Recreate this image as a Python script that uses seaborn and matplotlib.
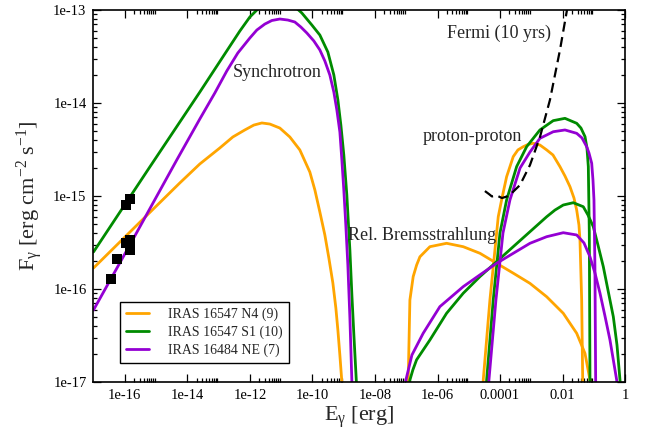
import matplotlib
matplotlib.use("Agg")
import matplotlib.pyplot as plt
from matplotlib.lines import Line2D
from matplotlib.ticker import FixedLocator, FixedFormatter, NullFormatter
import pandas as pd
import seaborn as sns

# ---------------- data (E in erg, F in erg cm^-2 s^-1) ----------------
sources = ["IRAS 16547 N4 (9)", "IRAS 16547 S1 (10)", "IRAS 16484 NE (7)"]
colors = ["#FFA500", "#008B00", "#9400D3"]

# Synchrotron
syn_E_n4 = [1.0e-17, 3.02e-16, 5.74e-15, 2.51e-14, 1.09e-13, 2.85e-13, 6.90e-13, 1.34e-12,
            2.42e-12, 4.35e-12, 9.08e-12, 1.90e-11, 3.96e-11, 8.28e-11, 1.20e-10, 1.73e-10,
            2.50e-10, 3.36e-10, 4.51e-10, 5.62e-10, 6.52e-10, 7.55e-10, 8.75e-10, 1.01e-9]
syn_F_n4 = [1.68e-16, 5.21e-16, 1.38e-15, 2.21e-15, 3.28e-15, 4.31e-15, 5.13e-15, 5.79e-15,
            6.10e-15, 5.94e-15, 5.38e-15, 4.31e-15, 3.13e-15, 1.81e-15, 1.16e-15, 6.73e-16,
            3.81e-16, 2.15e-16, 1.16e-16, 6.25e-17, 3.62e-17, 1.95e-17, 1.0e-17, 3.9e-18]
syn_E_s1 = [1.0e-17, 6.31e-16, 2.51e-14, 1.58e-13, 4.78e-13, 1.0e-12, 2.42e-12, 7.28e-12,
            2.20e-11, 4.59e-11, 9.59e-11, 1.73e-10, 3.12e-10, 4.85e-10, 6.52e-10, 8.13e-10,
            1.01e-9, 1.26e-9, 1.58e-9, 1.83e-9, 2.12e-9, 2.45e-9, 2.84e-9]
syn_F_s1 = [2.50e-16, 2.05e-15, 1.31e-14, 3.37e-14, 5.94e-14, 8.41e-14, 1.13e-13, 1.28e-13,
            1.16e-13, 9.29e-14, 6.90e-14, 5.38e-14, 3.53e-14, 2.0e-14, 1.08e-14, 5.79e-15,
            2.76e-15, 1.03e-15, 2.62e-16, 8.61e-17, 3.20e-17, 1.28e-17, 5.0e-18]
syn_E_ne = [1.0e-17, 1.45e-16, 4.60e-15, 2.51e-14, 7.57e-14, 1.83e-13, 4.12e-13, 1.0e-12,
            1.67e-12, 3.01e-12, 5.05e-12, 9.08e-12, 1.64e-11, 2.74e-11, 4.27e-11, 6.64e-11,
            1.11e-10, 1.73e-10, 2.50e-10, 3.61e-10, 4.85e-10, 6.05e-10, 7.55e-10, 8.75e-10,
            1.01e-9, 1.17e-9, 1.36e-9, 1.58e-9, 1.83e-9, 2.12e-9]
syn_F_ne = [5.94e-17, 2.97e-16, 2.44e-15, 6.73e-15, 1.28e-14, 2.21e-14, 3.45e-14, 5.0e-14,
            6.09e-14, 7.06e-14, 7.71e-14, 8.0e-14, 7.80e-14, 7.43e-14, 6.56e-14, 5.66e-14,
            4.65e-14, 3.72e-14, 2.83e-14, 2.0e-14, 1.31e-14, 8.41e-15, 4.88e-15, 2.44e-15,
            1.16e-15, 4.88e-16, 1.81e-16, 4.88e-17, 1.0e-17, 3.05e-18]

# Relativistic Bremsstrahlung
brem_E_n4 = [1.15e-7, 1.156e-7, 1.31e-7, 1.67e-7, 2.15e-7, 2.74e-7, 5.71e-7, 1.95e-6, 6.64e-6,
             2.28e-5, 7.78e-5, 2.64e-4, 9.04e-4, 3.09e-3, 1.05e-2, 2.82e-2, 5.20e-2, 7.50e-2, 8.71e-2]
brem_F_n4 = [3.9e-18, 1.05e-17, 7.62e-17, 1.36e-16, 1.81e-16, 2.22e-16, 2.85e-16, 3.10e-16, 2.85e-16,
             2.42e-16, 1.89e-16, 1.48e-16, 1.15e-16, 8.26e-17, 5.48e-17, 3.34e-17, 2.03e-17,
             1.05e-17, 6.4e-18]
brem_E_s1 = [1.22e-7, 1.31e-7, 1.63e-7, 2.14e-7, 5.71e-7, 1.95e-6, 6.64e-6, 2.28e-5, 7.78e-5,
             2.64e-4, 9.04e-4, 3.09e-3, 5.70e-3, 1.05e-2, 2.19e-2, 4.58e-2, 6.47e-2, 9.57e-2,
             0.135, 0.200, 0.282, 0.418, 0.548, 0.684, 0.792]
brem_F_s1 = [6.4e-18, 1.05e-17, 1.35e-17, 1.73e-17, 2.83e-17, 5.48e-17, 9.0e-17, 1.36e-16, 1.97e-16,
             2.85e-16, 4.13e-16, 5.98e-16, 7.06e-16, 8.0e-16, 8.47e-16, 7.67e-16, 6.25e-16, 4.68e-16,
             2.97e-16, 1.74e-16, 9.75e-17, 5.04e-17, 2.50e-17, 1.05e-17, 5.0e-18]
brem_E_ne = [9.06e-8, 9.75e-8, 1.52e-7, 3.48e-7, 1.19e-6, 6.64e-6, 2.28e-5, 7.78e-5, 2.64e-4,
             9.04e-4, 3.09e-3, 1.05e-2, 2.82e-2, 4.82e-2, 7.50e-2, 0.108, 0.157, 0.226, 0.327,
             0.536, 0.634]
brem_F_ne = [6.4e-18, 1.05e-17, 1.95e-17, 3.34e-17, 6.46e-17, 1.06e-16, 1.42e-16, 1.89e-16,
             2.42e-16, 3.10e-16, 3.65e-16, 4.03e-16, 3.81e-16, 3.13e-16, 2.22e-16, 1.49e-16,
             9.0e-17, 5.13e-17, 2.83e-17, 1.05e-17, 5.0e-18]

# proton-proton
pp_E_n4 = [2.83e-5, 2.90e-5, 4.74e-5, 6.85e-5, 8.75e-5, 1.12e-4, 1.62e-4, 2.64e-4, 3.73e-4,
           5.52e-4, 7.80e-4, 1.15e-3, 1.89e-3, 3.09e-3, 4.92e-3, 8.22e-3, 1.19e-2, 1.72e-2,
           2.31e-2, 2.82e-2, 3.33e-2, 3.59e-2, 4.07e-2, 4.39e-2, 4.48e-2]
pp_F_n4 = [6.4e-18, 1.05e-17, 7.62e-17, 2.62e-16, 5.98e-16, 9.06e-16, 1.61e-15, 2.65e-15, 3.13e-15,
           3.39e-15, 3.58e-15, 3.69e-15, 3.53e-15, 3.13e-15, 2.76e-15, 2.07e-15, 1.64e-15, 1.26e-15,
           9.51e-16, 7.06e-16, 4.88e-16, 3.37e-16, 7.62e-17, 1.05e-17, 6.4e-18]
pp_E_s1 = [3.53e-5, 3.72e-5, 6.05e-5, 9.93e-5, 1.62e-4, 3.39e-4, 7.08e-4, 1.88e-3, 5.02e-3,
           1.19e-2, 2.82e-2, 3.86e-2, 5.20e-2, 6.01e-2, 6.64e-2, 7.14e-2, 7.50e-2, 7.60e-2]
pp_F_s1 = [6.4e-18, 1.05e-17, 7.62e-17, 4.0e-16, 9.06e-16, 2.07e-15, 3.39e-15, 5.13e-15, 6.46e-15,
           6.84e-15, 6.05e-15, 5.38e-15, 4.35e-15, 3.28e-15, 2.07e-15, 4.0e-16, 1.05e-17, 6.4e-18]
pp_E_ne = [4.09e-5, 4.41e-5, 7.38e-5, 1.24e-4, 2.07e-4, 4.36e-4, 9.04e-4, 1.88e-3, 5.02e-3,
           1.19e-2, 2.82e-2, 4.16e-2, 5.89e-2, 6.97e-2, 8.51e-2, 9.35e-2, 0.1007, 0.108, 0.114, 0.117]
pp_F_ne = [6.4e-18, 1.05e-17, 7.62e-17, 4.0e-16, 9.06e-16, 2.0e-15, 2.97e-15, 4.17e-15, 4.91e-15,
           5.13e-15, 4.72e-15, 4.21e-15, 3.39e-15, 2.90e-15, 2.25e-15, 1.49e-15, 9.06e-16, 1.74e-16,
           1.05e-17, 6.4e-18]

# Fermi (10 yrs) sensitivity
fermi_E = [3.28e-5, 4.41e-5, 5.50e-5, 7.94e-5, 1.15e-4, 1.66e-4, 2.40e-4, 4.33e-4, 9.04e-4,
           1.89e-3, 3.94e-3, 8.24e-3, 1.38e-2, 1.72e-2]
fermi_F = [1.13e-15, 1.05e-15, 9.89e-16, 1.01e-15, 9.51e-16, 9.89e-16, 1.08e-15, 1.31e-15, 2.15e-15,
           4.31e-15, 1.08e-14, 3.72e-14, 1.0e-13, 1.45e-13]

# Observed radio points
obs_E = [3.6e-17, 5.8e-17, 1.1e-16, 1.5e-16, 1.5e-16, 1.1e-16, 1.5e-16]
obs_F = [1.27e-16, 2.1e-16, 3.1e-16, 3.4e-16, 2.6e-16, 8.0e-16, 9.3e-16]

xtick_vals = [1e-16, 1e-14, 1e-12, 1e-10, 1e-8, 1e-6, 1e-4, 1e-2, 1]
xtick_labels = ["1e-16", "1e-14", "1e-12", "1e-10", "1e-08", "1e-06", "0.0001", "0.01", "1"]
ytick_vals = [1e-17, 1e-16, 1e-15, 1e-14, 1e-13]
ytick_labels = ["1e-17", "1e-16", "1e-15", "1e-14", "1e-13"]

curves = {
    sources[0]: [(syn_E_n4, syn_F_n4), (brem_E_n4, brem_F_n4), (pp_E_n4, pp_F_n4)],
    sources[1]: [(syn_E_s1, syn_F_s1), (brem_E_s1, brem_F_s1), (pp_E_s1, pp_F_s1)],
    sources[2]: [(syn_E_ne, syn_F_ne), (brem_E_ne, brem_F_ne), (pp_E_ne, pp_F_ne)],
}

# ---------------- style ----------------
sns.set_theme(style="ticks")
plt.rcParams["font.family"] = ["Liberation Serif", "DejaVu Serif"]
plt.rcParams["mathtext.fontset"] = "custom"
plt.rcParams["mathtext.rm"] = "Liberation Serif"
plt.rcParams["mathtext.it"] = "Liberation Serif:italic"
plt.rcParams["mathtext.default"] = "regular"

fig = plt.figure(figsize=(6.51, 4.33), dpi=100)
ax = fig.add_axes([0.1436, 0.1178, 0.8167, 0.8591])
ax.set_xscale("log")
ax.set_yscale("log")

for src, col in zip(sources, colors):
    for E, F in curves[src]:
        df = pd.DataFrame({"E": E, "F": F})
        sns.lineplot(data=df, x="E", y="F", ax=ax, color=col, lw=2.0,
                     sort=False, estimator=None)
for ln in ax.lines:
    ln.set_solid_joinstyle("round")

fdf = pd.DataFrame({"E": fermi_E, "F": fermi_F})
sns.lineplot(data=fdf, x="E", y="F", ax=ax, color="black", lw=1.6,
             sort=False, estimator=None)
ax.lines[-1].set_dashes((4.5, 2.5))

odf = pd.DataFrame({"E": obs_E, "F": obs_F})
sns.scatterplot(data=odf, x="E", y="F", ax=ax, marker="s", color="black",
                s=45, edgecolor="black", linewidth=0, zorder=5)

ax.set_xlim(1e-17, 1)
ax.set_ylim(1e-17, 1e-13)

ax.xaxis.set_major_locator(FixedLocator(xtick_vals))
ax.xaxis.set_major_formatter(FixedFormatter(xtick_labels))
xminor = [m * v for v in xtick_vals[:-1] for m in range(2, 10)]
ax.xaxis.set_minor_locator(FixedLocator(xminor))
ax.xaxis.set_minor_formatter(NullFormatter())
ax.yaxis.set_major_locator(FixedLocator(ytick_vals))
ax.yaxis.set_major_formatter(FixedFormatter(ytick_labels))
yminor = [m * v for v in ytick_vals[:-1] for m in range(2, 10)]
ax.yaxis.set_minor_locator(FixedLocator(yminor))
ax.yaxis.set_minor_formatter(NullFormatter())

ax.tick_params(which="both", direction="in", top=True, right=True, colors="black",
               labelsize=10.5, width=0.9)
ax.tick_params(which="major", length=6, pad=5)
ax.tick_params(which="minor", length=3)
for s in ax.spines.values():
    s.set_linewidth(1.2)
    s.set_color("black")

ax.set_xlabel(r"E$_{\mathrm{γ}}$ [erg]", fontsize=16, labelpad=2)
ax.set_ylabel(r"F$_{\mathrm{γ}}$ [erg cm$^{\mathrm{-2}}$ s$^{\mathrm{-1}}$]", fontsize=16, labelpad=6)

ax.text(0.262, 0.831, "Synchrotron", transform=ax.transAxes, fontsize=13, va="center", ha="left")
ax.text(0.665, 0.938, "Fermi (10 yrs)", transform=ax.transAxes, fontsize=13, va="center", ha="left")
ax.text(0.620, 0.659, "proton-proton", transform=ax.transAxes, fontsize=13, va="center", ha="left")
ax.text(0.479, 0.395, "Rel. Bremsstrahlung", transform=ax.transAxes, fontsize=13, va="center", ha="left")

handles = [Line2D([], [], color=c, lw=2.0) for c in colors]
leg = ax.legend(handles, sources, loc="lower left", bbox_to_anchor=(0.05, 0.051),
                borderaxespad=0, frameon=True, fancybox=False, framealpha=1,
                edgecolor="black", fontsize=10, handlelength=1.6, handletextpad=1.4,
                labelspacing=0.3, borderpad=0.45)
leg.get_frame().set_linewidth(1.0)

fig.savefig("out.png", dpi=100)
